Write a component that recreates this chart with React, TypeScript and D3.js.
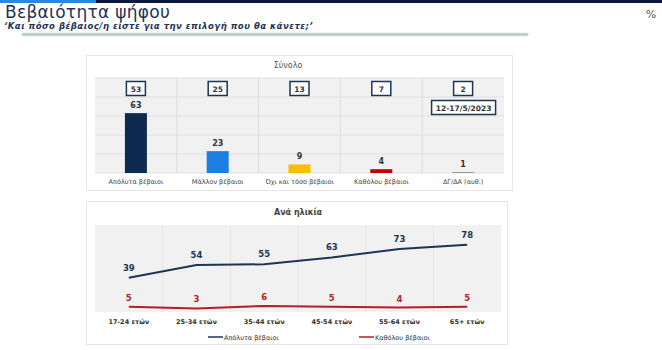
import React from 'react'
import * as d3 from 'd3'

const totalCats = ['Απόλυτα βέβαιοι', 'Μάλλον βέβαιοι', 'Όχι και τόσο βέβαιοι', 'Καθόλου βέβαιοι', 'ΔΓ/ΔΑ (αυθ.)']
const totalNow = [63, 23, 9, 4, 1]
const totalPrev = [53, 25, 13, 7, 2]
const totalColors = ['#0c2a4f', '#1a7fe0', '#f5bf00', '#c00000', '#9a9a9a']

const ageCats = ['17-24 ετών', '25-34 ετών', '35-44 ετών', '45-54 ετών', '55-64 ετών', '65+ ετών']
const ageSure = [39, 54, 55, 63, 73, 78]
const ageNotAtAll = [5, 3, 6, 5, 4, 5]

const NAVY = '#1c3553'
const RED = '#b21f24'
const FONT = 'DejaVu Sans, Verdana, sans-serif'

export default function App() {
  // panel 1 scales
  const x1 = d3.scaleBand().domain(totalCats).range([95, 504])
  const y1 = d3.scaleLinear().domain([0, 100]).range([173, 78])
  const hGrid1 = [0, 20, 40, 60, 80, 100]

  // panel 2 scales
  const x2 = d3.scaleBand().domain(ageCats).range([95, 501])
  const y2 = d3.scaleLinear().domain([0, 100]).range([311, 226])
  const line = d3.line<number>()
    .x((d, i) => (x2(ageCats[i]) as number) + x2.bandwidth() / 2)
    .y(d => y2(d))

  return (
    <svg width={662} height={350} style={{ position: 'absolute', left: 0, top: 0 }} fontFamily={FONT}>
      <rect x={0} y={0} width={662} height={350} fill='#ffffff' />
      {/* top strip */}
      <rect x={0} y={0} width={662} height={3} fill='#0b1a3c' />
      <rect x={0} y={0} width={96} height={3} fill='#2e86de' />
      <text x={5} y={18} fontSize={17} letterSpacing={0.3} fill='#1d3354'>Βεβαιότητα ψήφου</text>
      <text x={4} y={29} fontSize={8.5} fontStyle='italic' fontWeight='bold' letterSpacing={0.5} fill='#1d3354'>
        ‘Και πόσο βέβαιος/η είστε για την επιλογή που θα κάνετε;’
      </text>
      <line x1={23} x2={527} y1={34.5} y2={34.5} stroke='#e3e9e9' strokeWidth={4} strokeLinecap='round' />
      <line x1={23} x2={527} y1={34.5} y2={34.5} stroke='#b3c4c4' strokeWidth={2} strokeLinecap='round' />
      <text x={651} y={18} fontSize={11} fill='#555' textAnchor='middle'>%</text>

      {/* panel 1 */}
      <rect x={86.5} y={55.5} width={426} height={135} fill='#fff' stroke='#e6e6e6' />
      <text x={288} y={68} fontSize={8} fill='#555' textAnchor='middle'>Σύνολο</text>
      <rect x={95} y={78} width={409} height={95} fill='#f1f1f1' />
      {hGrid1.map(v => (
        <line key={'h' + v} x1={95} x2={504} y1={y1(v)} y2={y1(v)} stroke='#e0e0e0' strokeWidth={1} />
      ))}
      {totalCats.slice(1).map(c => (
        <line key={'v' + c} x1={x1(c)} x2={x1(c)} y1={78} y2={173} stroke='#dcdcdc' strokeWidth={1} />
      ))}
      {totalCats.map((c, i) => {
        const cx = (x1(c) as number) + x1.bandwidth() / 2
        const v = totalNow[i]
        return (
          <g key={c}>
            <rect x={cx - 11} y={y1(v)} width={22} height={173 - y1(v)} fill={totalColors[i]} />
            <text x={cx} y={y1(v) - 5} fontSize={8} fontWeight='bold' fill='#333' textAnchor='middle'>{v}</text>
            <rect x={cx - 9.5} y={81.5} width={19} height={14} fill='#fff' stroke={NAVY} strokeWidth={1.5} />
            <text x={cx} y={91.5} fontSize={7.5} fontWeight='bold' fill='#333' textAnchor='middle'>{totalPrev[i]}</text>
            <text x={cx} y={184} fontSize={6.5} fill='#444' textAnchor='middle'>{c}</text>
          </g>
        )
      })}
      {(() => {
        const c = totalCats[4]
        const cx = (x1(c) as number) + x1.bandwidth() / 2
        return (
          <g>
            <rect x={cx - 31.5} y={100.5} width={64} height={14} fill='#fff' stroke={NAVY} strokeWidth={1.5} />
            <text x={cx + 0.5} y={110.5} fontSize={7.5} fontWeight='bold' fill='#333' textAnchor='middle'>12-17/5/2023</text>
          </g>
        )
      })()}

      {/* panel 2 */}
      <rect x={86.5} y={201.5} width={421} height={143} fill='#fff' stroke='#e6e6e6' />
      <text x={298} y={215} fontSize={8} fontWeight='bold' fill='#444' textAnchor='middle'>Ανά ηλικία</text>
      <rect x={95} y={225} width={406} height={87} fill='#f1f1f1' />
      {ageCats.slice(1).map(c => (
        <line key={'va' + c} x1={x2(c)} x2={x2(c)} y1={225} y2={312} stroke='#e4e4e4' strokeWidth={1} />
      ))}
      <path d={line(ageSure) || ''} fill='none' stroke={NAVY} strokeWidth={2} />
      <path d={line(ageNotAtAll) || ''} fill='none' stroke={RED} strokeWidth={2} />
      {ageCats.map((c, i) => {
        const cx = (x2(c) as number) + x2.bandwidth() / 2
        return (
          <g key={c}>
            <text x={cx} y={y2(ageSure[i]) - 7} fontSize={8.5} fontWeight='bold' fill={NAVY} textAnchor='middle'>{ageSure[i]}</text>
            <text x={cx} y={y2(ageNotAtAll[i]) - 6} fontSize={8.5} fontWeight='bold' fill={RED} textAnchor='middle'>{ageNotAtAll[i]}</text>
            <text x={cx} y={324} fontSize={6.5} fontWeight='bold' fill='#333' textAnchor='middle'>{c}</text>
          </g>
        )
      })}
      <line x1={208} x2={223} y1={337} y2={337} stroke={NAVY} strokeWidth={1.5} />
      <text x={224} y={339.5} fontSize={6.5} fill='#333'>Απόλυτα βέβαιοι</text>
      <line x1={359} x2={374} y1={337} y2={337} stroke={RED} strokeWidth={1.5} />
      <text x={375} y={339.5} fontSize={6.5} fill='#333'>Καθόλου βέβαιοι</text>
    </svg>
  )
}
